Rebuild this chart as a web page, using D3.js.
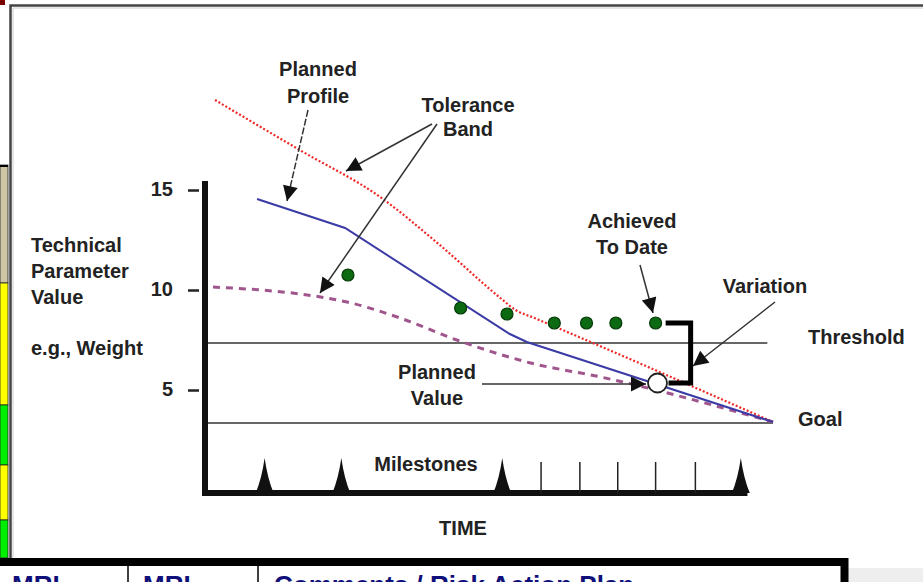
<!DOCTYPE html>
<meta charset="utf-8">
<style>
    body {
        margin: 0;
        overflow: hidden;
        background: #fff;
    }

    text {
        font-family: "Liberation Sans", Arial, sans-serif;
        font-weight: bold;
        font-size: 20px;
        fill: #222;
    }

</style>
<svg id="canvas" width="923" height="582"></svg>
<script src="https://d3js.org/d3.v7.min.js"></script>
<script>

    // time (months, rough) and parameter value
    var plannedProfile = [[2.75, 14.55], [7.4, 13.1], [16.1, 7.8], [17.0, 7.4], [30, 3.4]];
    var upperBand = [[0.53, 19.5], [5.0, 17.0], [9.25, 14.65], [12.4, 12.25], [15.6, 9.6], [16.4, 9.0], [17.4, 8.6], [30, 3.4]];
    var lowerBand = [[0.42, 10.15], [6.1, 9.65], [7.5, 9.4], [10.3, 8.6], [13.3, 7.5], [17.2, 6.35], [20.9, 5.65], [30, 3.4]];
    var achieved = [[7.55, 10.75], [13.5, 9.1], [15.95, 8.8], [18.45, 8.35], [20.15, 8.35], [21.7, 8.35], [23.8, 8.35]];
    var plannedValue = [23.9, 5.35];
    var threshold = 7.35,
        goal = 3.35;
    var milestones = [3.15, 7.2, 15.7, 28.3];
    var timeTicks = [17.75, 19.8, 21.8, 23.8, 25.9];
    var yTicks = [5, 10, 15];
    var tableHead = ["MRL", "MRL", "Comments / Risk Action Plan"];

    var svg = d3.select("svg");

    var x = d3.scaleLinear().domain([0, 30]).range([205, 773]);
    var y = d3.scaleLinear().domain([5, 15]).range([390, 190]);
    var base = -0.15;

    // --- page clutter around the picture (frame, neighbouring table) ---
    svg.append("rect").attr("x", 0).attr("y", 0).attr("width", 5).attr("height", 5).attr("fill", "#7a0000");
    var strip = [[165, 283, "#cdc5a3"], [283, 405, "#ffff00"], [405, 465, "#00ee00"], [465, 520, "#ffff00"], [520, 558, "#00ee00"]];
    svg.append("g").selectAll("rect")
       .data(strip)
       .enter().append("rect")
       .attr("x", 0).attr("width", 8)
       .attr("y", function(d) { return d[0]; })
       .attr("height", function(d) { return d[1] - d[0]; })
       .attr("fill", function(d) { return d[2]; })
       .attr("stroke", "#222").attr("stroke-width", 0.8);
    svg.append("line").attr("x1", 0).attr("x2", 8).attr("y1", 166).attr("y2", 166).attr("stroke", "#000").attr("stroke-width", 2);

    svg.append("path").attr("d", "M10.5,560V5.5H923").attr("fill", "none").attr("stroke", "#444").attr("stroke-width", 2.5);
    svg.append("path").attr("d", "M13,560V8H923").attr("fill", "none").attr("stroke", "#ccc").attr("stroke-width", 1);

    svg.append("rect").attr("x", 848).attr("y", 568).attr("width", 75).attr("height", 14).attr("fill", "#eee");
    svg.append("path").attr("d", "M0,562H844.5V582").attr("fill", "none").attr("stroke", "#000").attr("stroke-width", 8);
    svg.append("g").selectAll("line")
       .data([128, 258])
       .enter().append("line")
       .attr("x1", function(d) { return d; }).attr("x2", function(d) { return d; })
       .attr("y1", 566).attr("y2", 582)
       .attr("stroke", "#000").attr("stroke-width", 1.5);
    svg.append("g").selectAll("text")
       .data(tableHead)
       .enter().append("text")
       .attr("x", function(d, i) { return [12, 143, 274][i]; })
       .attr("y", 594)
       .style("font-size", "26px")
       .style("fill", "#10107a")
       .text(function(d) { return d; });

    // --- arrow heads ---
    svg.append("defs").append("marker")
       .attr("id", "head")
       .attr("viewBox", "0 0 10 10")
       .attr("refX", 10).attr("refY", 5)
       .attr("markerWidth", 19).attr("markerHeight", 15)
       .attr("markerUnits", "userSpaceOnUse")
       .attr("orient", "auto")
       .append("path").attr("d", "M0,0L10,5L0,10Z").attr("fill", "#111");

    // --- reference lines ---
    svg.append("g").selectAll("line")
       .data([[threshold, 29.7], [goal, 30]])
       .enter().append("line")
       .attr("x1", x(0)).attr("x2", function(d) { return x(d[1]); })
       .attr("y1", function(d) { return y(d[0]); })
       .attr("y2", function(d) { return y(d[0]); })
       .attr("stroke", "#333").attr("stroke-width", 1.5);

    // --- curves ---
    var line = d3.line().x(function(d) { return x(d[0]); }).y(function(d) { return y(d[1]); });
    var smooth = d3.line().curve(d3.curveMonotoneX).x(function(d) { return x(d[0]); }).y(function(d) { return y(d[1]); });

    svg.append("path").datum(lowerBand).attr("d", smooth)
       .attr("fill", "none").attr("stroke", "#a0558c").attr("stroke-width", 3).attr("stroke-dasharray", "7,6");
    svg.append("path").datum(upperBand).attr("d", smooth)
       .attr("fill", "none").attr("stroke", "#f02828").attr("stroke-width", 2.2).attr("stroke-dasharray", "2,2");
    svg.append("path").datum(plannedProfile).attr("d", line)
       .attr("fill", "none").attr("stroke", "#3b3ba6").attr("stroke-width", 2);

    // --- axes ---
    var yAxis = svg.append("g")
       .attr("transform", "translate(199,0)")
       .call(d3.axisLeft(y).tickValues(yTicks).tickSize(11).tickPadding(15));
    yAxis.select(".domain").remove();
    yAxis.selectAll(".tick line").attr("stroke", "#222").attr("stroke-width", 2.5);
    yAxis.selectAll(".tick text")
       .attr("dy", "0.25em")
       .style("font-family", "'Liberation Sans', Arial, sans-serif")
       .style("font-size", "20px").style("font-weight", "bold").style("fill", "#222");

    svg.append("path")
       .attr("d", "M" + x(0) + "," + y(15.45) + "V" + y(base) + "H" + x(28.65))
       .attr("fill", "none").attr("stroke", "#111").attr("stroke-width", 6);

    svg.append("g").selectAll("path")
       .data(milestones)
       .enter().append("path")
       .attr("d", function(d) { var cx = x(d), b = y(base); return "M" + (cx - 9) + "," + b + "Q" + (cx - 3) + "," + (b - 14) + " " + cx + "," + (b - 35) + "Q" + (cx + 3) + "," + (b - 14) + " " + (cx + 9) + "," + b + "Z"; })
       .attr("fill", "#111");
    svg.append("g").selectAll("line")
       .data(timeTicks)
       .enter().append("line")
       .attr("x1", function(d) { return x(d); }).attr("x2", function(d) { return x(d); })
       .attr("y1", y(base)).attr("y2", y(base) - 31)
       .attr("stroke", "#222").attr("stroke-width", 1.5);

    // --- variation bracket ---
    var last = achieved[achieved.length - 1];
    svg.append("path")
       .attr("d", "M" + (x(last[0]) + 10) + "," + y(last[1]) + "H" + x(25.65) + "V" + y(plannedValue[1]) + "H" + (x(plannedValue[0]) + 11))
       .attr("fill", "none").attr("stroke", "#000").attr("stroke-width", 5);

    // --- achieved points and planned value ---
    svg.append("g").selectAll("circle")
       .data(achieved)
       .enter().append("circle")
       .attr("cx", function(d) { return x(d[0]); })
       .attr("cy", function(d) { return y(d[1]); })
       .attr("r", 6)
       .attr("fill", "#0b6a12").attr("stroke", "#063a08").attr("stroke-width", 1.2);
    svg.append("circle")
       .attr("cx", x(plannedValue[0])).attr("cy", y(plannedValue[1])).attr("r", 9.5)
       .attr("fill", "#fff").attr("stroke", "#222").attr("stroke-width", 1.8);

    // --- annotation arrows (page pixels) ---
    var arrows = [
        [308, 110, 287, 201, "7,2"],
        [432, 124, 346, 171, null],
        [437, 124, 320, 293, null],
        [640, 265, 653, 313, null],
        [775, 302, 693, 366, null],
        [482, 384, 646, 384, null]
    ];
    svg.append("g").selectAll("line")
       .data(arrows)
       .enter().append("line")
       .attr("x1", function(d) { return d[0]; }).attr("y1", function(d) { return d[1]; })
       .attr("x2", function(d) { return d[2]; }).attr("y2", function(d) { return d[3]; })
       .attr("stroke", "#333").attr("stroke-width", 1.5)
       .attr("stroke-dasharray", function(d) { return d[4]; })
       .attr("marker-end", "url(#head)");

    // --- labels ---
    var labels = [
        ["Planned", 318, 76, "middle"], ["Profile", 318, 103, "middle"],
        ["Tolerance", 468, 112, "middle"], ["Band", 468, 136, "middle"],
        ["Achieved", 632, 228, "middle"], ["To Date", 632, 254, "middle"],
        ["Variation", 765, 293, "middle"],
        ["Threshold", 808, 344, "start"],
        ["Goal", 798, 426, "start"],
        ["Planned", 437, 379, "middle"], ["Value", 437, 405, "middle"],
        ["Milestones", 426, 471, "middle"],
        ["TIME", 463, 535, "middle"],
        ["Technical", 31, 252, "start"], ["Parameter", 31, 278, "start"],
        ["Value", 31, 304, "start"], ["e.g., Weight", 31, 355, "start"]
    ];
    svg.append("g").selectAll("text")
       .data(labels)
       .enter().append("text")
       .attr("x", function(d) { return d[1]; })
       .attr("y", function(d) { return d[2]; })
       .attr("text-anchor", function(d) { return d[3]; })
       .text(function(d) { return d[0]; });

</script>
